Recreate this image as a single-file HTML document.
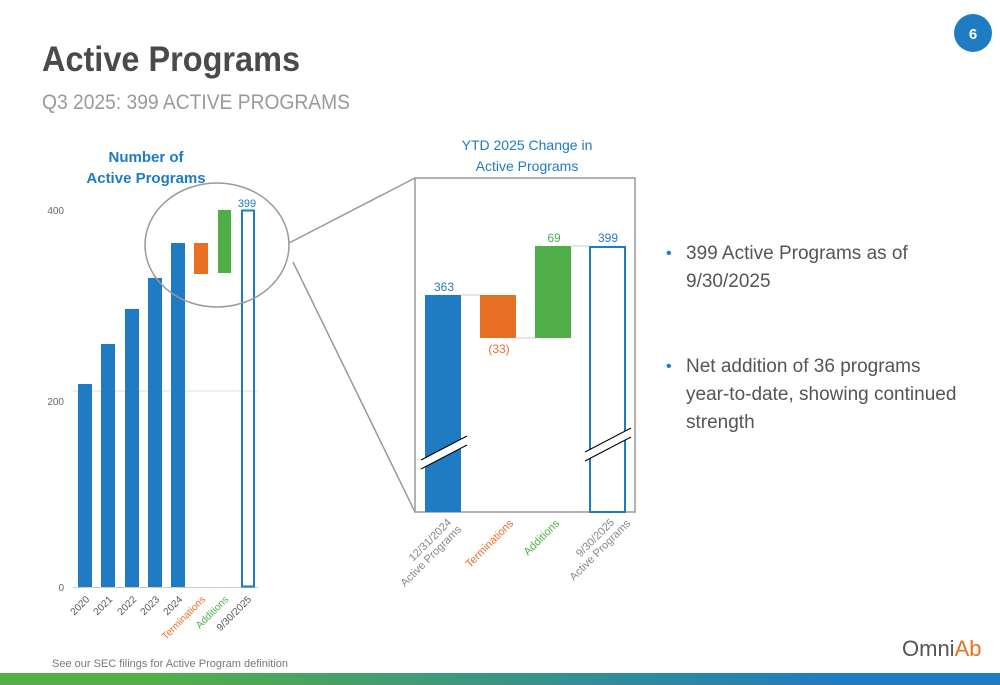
<!DOCTYPE html>
<html><head><meta charset="utf-8"><style>
body{margin:0;background:#fff}
svg{display:block}
text{font-family:"Liberation Sans",sans-serif}
</style></head><body>
<svg width="1000" height="685" viewBox="0 0 1000 685" xmlns="http://www.w3.org/2000/svg">
<defs><linearGradient id="g" x1="0" x2="1"><stop offset="0" stop-color="#52b047"/><stop offset="0.15" stop-color="#52b047"/><stop offset="0.85" stop-color="#1f7bc2"/><stop offset="1" stop-color="#1f7bc2"/></linearGradient></defs>
<text x="42" y="71" font-size="35" font-weight="bold" fill="#4a4a4d" textLength="258" lengthAdjust="spacingAndGlyphs">Active Programs</text>
<text x="42" y="109" font-size="21" fill="#9a9a9a" textLength="308" lengthAdjust="spacingAndGlyphs">Q3 2025: 399 ACTIVE PROGRAMS</text>
<circle cx="973" cy="33" r="19" fill="#1f7bc2"/>
<text x="973" y="39" font-size="15" font-weight="bold" fill="#fff" text-anchor="middle">6</text>
<!-- left chart -->
<text x="146" y="162" font-size="15" font-weight="bold" fill="#1f7bc2" text-anchor="middle">Number of</text>
<text x="146" y="183" font-size="15" font-weight="bold" fill="#1f7bc2" text-anchor="middle">Active Programs</text>
<g font-size="10" fill="#666" text-anchor="end">
<text x="64" y="214">400</text><text x="64" y="405">200</text><text x="64" y="591">0</text></g>
<line x1="73" y1="391" x2="258" y2="391" stroke="#ddd"/>
<line x1="73" y1="587.5" x2="258" y2="587.5" stroke="#ccc"/>
<g fill="#1f7bc2">
<rect x="78" y="384" width="14" height="203"/><rect x="101" y="344" width="14" height="243"/>
<rect x="125" y="309" width="14" height="278"/><rect x="148" y="278" width="14" height="309"/>
<rect x="171" y="243" width="14" height="344"/></g>
<rect x="194" y="243" width="14" height="31" fill="#e87025"/>
<rect x="218" y="210" width="13" height="63" fill="#4fae48"/>
<rect x="242" y="210.5" width="12" height="376" fill="none" stroke="#1f7bc2" stroke-width="2"/>
<text x="247" y="207" font-size="11" fill="#1f7bc2" text-anchor="middle">399</text>
<g font-size="10" fill="#555" text-anchor="end">
<text transform="translate(90,600) rotate(-45)">2020</text>
<text transform="translate(113,600) rotate(-45)">2021</text>
<text transform="translate(137,600) rotate(-45)">2022</text>
<text transform="translate(160,600) rotate(-45)">2023</text>
<text transform="translate(183,600) rotate(-45)">2024</text>
<text transform="translate(206,600) rotate(-45)" fill="#e87025">Terminations</text>
<text transform="translate(229,600) rotate(-45)" fill="#4fae48">Additions</text>
<text transform="translate(252,600) rotate(-45)">9/30/2025</text></g>
<ellipse cx="217" cy="245" rx="72" ry="62" fill="none" stroke="#999" stroke-width="1.5"/>
<line x1="289" y1="243" x2="415" y2="178" stroke="#999" stroke-width="1.5"/>
<line x1="293" y1="262" x2="415" y2="512" stroke="#999" stroke-width="1.5"/>
<text x="52" y="667" font-size="11" fill="#777">See our SEC filings for Active Program definition</text>
<!-- right chart -->
<text x="527" y="150" font-size="14" fill="#1f7bc2" text-anchor="middle">YTD 2025 Change in</text>
<text x="527" y="171" font-size="14" fill="#1f7bc2" text-anchor="middle">Active Programs</text>
<rect x="415" y="178" width="220" height="334" fill="none" stroke="#999" stroke-width="1.5"/>
<line x1="461" y1="295" x2="480" y2="295" stroke="#ccc"/>
<line x1="516" y1="338" x2="535" y2="338" stroke="#ccc"/>
<line x1="571" y1="246" x2="589" y2="246" stroke="#ccc"/>
<rect x="425" y="295" width="36" height="217" fill="#1f7bc2"/>
<rect x="480" y="295" width="36" height="43" fill="#e87025"/>
<rect x="535" y="246" width="36" height="92" fill="#4fae48"/>
<rect x="590" y="247" width="35" height="265" fill="none" stroke="#1f7bc2" stroke-width="2"/>
<polygon points="421,460 467,436 467,445 421,469" fill="#fff"/>
<line x1="421" y1="460" x2="467" y2="436" stroke="#000" stroke-width="1"/>
<line x1="421" y1="469" x2="467" y2="445" stroke="#000" stroke-width="1"/>
<polygon points="585,452 631,428 631,437 585,461" fill="#fff"/>
<line x1="585" y1="452" x2="631" y2="428" stroke="#000" stroke-width="1"/>
<line x1="585" y1="461" x2="631" y2="437" stroke="#000" stroke-width="1"/>
<text x="444" y="291" font-size="12" fill="#1f7bc2" text-anchor="middle">363</text>
<text x="499" y="353" font-size="12" fill="#e87025" text-anchor="middle">(33)</text>
<text x="554" y="242" font-size="12" fill="#4fae48" text-anchor="middle">69</text>
<text x="608" y="242" font-size="12" fill="#1f7bc2" text-anchor="middle">399</text>
<g font-size="11" fill="#888" text-anchor="end">
<text transform="translate(452,523) rotate(-45)">12/31/2024</text>
<text transform="translate(462,530) rotate(-45)">Active Programs</text>
<text transform="translate(514,524) rotate(-45)" fill="#e87025">Terminations</text>
<text transform="translate(560,524) rotate(-45)" fill="#4fae48">Additions</text>
<text transform="translate(615,523) rotate(-45)">9/30/2025</text>
<text transform="translate(631,524) rotate(-45)">Active Programs</text></g>
<!-- bullets -->
<g font-size="19" fill="#555">
<text x="666" y="258" fill="#1f7bc2" font-size="16">•</text>
<text x="686" y="259">399 Active Programs as of</text>
<text x="686" y="287">9/30/2025</text>
<text x="666" y="371" fill="#1f7bc2" font-size="16">•</text>
<text x="686" y="372">Net addition of 36 programs</text>
<text x="686" y="400">year-to-date, showing continued</text>
<text x="686" y="428">strength</text></g>
<text x="902" y="656" font-size="22" fill="#555">Omni<tspan fill="#e87025">Ab</tspan></text>
<rect x="0" y="673" width="1000" height="12" fill="url(#g)"/>
</svg>
</body></html>
